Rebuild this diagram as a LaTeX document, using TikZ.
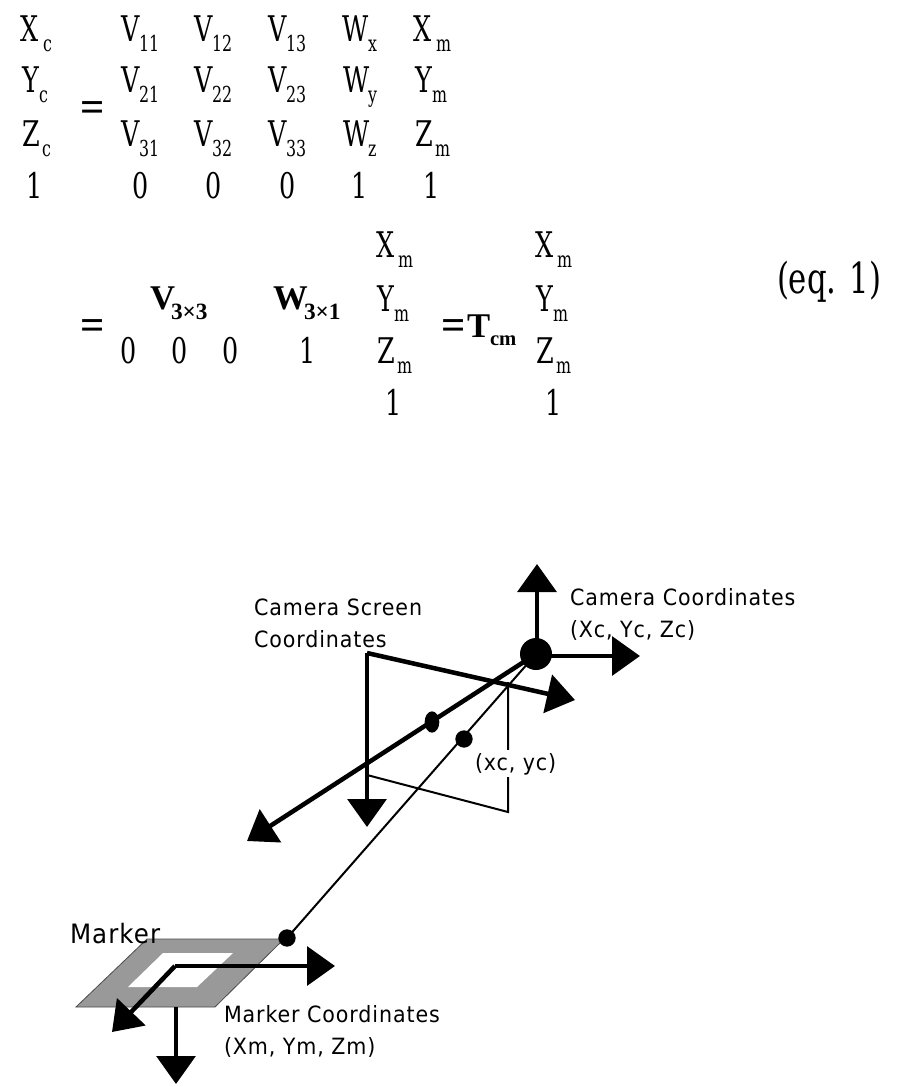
\documentclass[tikz,border=0pt]{standalone}
\usepackage{fontspec}
\usetikzlibrary{arrows.meta,shapes.geometric}
\newfontfamily\eqfont[FakeStretch=0.72]{DejaVu Serif}
\newfontfamily\eqbold{Liberation Serif Bold}
\newfontfamily\lblfont[FakeStretch=0.92,LetterSpace=4]{DejaVu Sans}
\definecolor{markergray}{HTML}{999999}
\tikzset{
  txt/.style={inner sep=0pt,outer sep=0pt,anchor=base west},
  main/.style={txt,font=\eqfont\fontsize{26.5}{26.5}\selectfont},
  ctr/.style={main,anchor=base},
  sbs/.style={txt,font=\eqfont\fontsize{16.5}{16.5}\selectfont},
  bmain/.style={txt,font=\eqbold\fontsize{26}{26}\selectfont},
  bsub/.style={txt,font=\eqbold\fontsize{17.5}{17.5}\selectfont},
  lbl/.style={txt,font=\lblfont\fontsize{16.8}{16.8}\selectfont},
  axis/.style={line width=3.4pt,-{Triangle[length=21pt,width=29pt]}},
  thin line/.style={line width=1.5pt},
  dot/.style={circle,fill=black,inner sep=0pt},
}
\newcommand{\ent}[6]{%name x y main subx sub
  \node[main] (#1) at (#2,#3) {#4};
  \node[sbs] (#1s) at (#5,#3+10) {#6};}
\begin{document}
\begin{tikzpicture}[x=0.75pt,y=-0.75pt]
\useasboundingbox (0,0) rectangle (903,1087);
% first equation
\ent{xc}{21}{42}{X}{43}{c}
\ent{yc}{22}{93}{Y}{39}{c}
\ent{zc}{22}{147}{Z}{42}{c}
\node[ctr] (one0) at (35,199) {1};
\node[main] (eqa) at (80,122) {\eqbold\fontsize{32}{32}\selectfont =};
\ent{v11}{121}{42}{V}{139}{11}
\ent{v12}{194}{42}{V}{212}{12}
\ent{v13}{268}{42}{V}{286}{13}
\ent{wx}{342}{42}{W}{368}{x}
\ent{xm}{413}{42}{X}{436}{m}
\ent{v21}{121}{93}{V}{139}{21}
\ent{v22}{194}{93}{V}{212}{22}
\ent{v23}{268}{93}{V}{286}{23}
\ent{wy}{343}{93}{W}{368}{y}
\ent{ym}{415}{93}{Y}{432}{m}
\ent{v31}{121}{147}{V}{139}{31}
\ent{v32}{194}{147}{V}{212}{32}
\ent{v33}{268}{147}{V}{286}{33}
\ent{wz}{343}{147}{W}{368}{z}
\ent{zm}{415}{147}{Z}{435}{m}
\node[ctr] (r4a) at (141,199) {0};
\node[ctr] (r4b) at (214,199) {0};
\node[ctr] (r4c) at (288,199) {0};
\node[ctr] (r4d) at (360,199) {1};
\node[ctr] (r4e) at (432,199) {1};
% second equation
\node[main] (eqb) at (80,339) {\eqbold\fontsize{32}{32}\selectfont =};
\node[bmain] (vb) at (150,310) {V};
\node[bsub] (vbs) at (171,319) {3×3};
\node[bmain] (wb) at (273,310) {W};
\node[bsub] (wbs) at (304,319) {3×1};
\node[ctr] (z1) at (129,363) {0};
\node[ctr] (z2) at (180,363) {0};
\node[ctr] (z3) at (231,363) {0};
\node[ctr] (o1) at (308,363) {1};
\ent{xma}{376}{258}{X}{398}{m}
\ent{yma}{377}{311}{Y}{394}{m}
\ent{zma}{377}{363}{Z}{397}{m}
\node[ctr] (o2) at (394,415) {1};
\node[main] (eqc) at (441,339) {\eqbold\fontsize{32}{32}\selectfont =};
\node[bmain] (tb) at (467,337) {T};
\node[bsub,font=\eqbold\fontsize{15.5}{15.5}\selectfont] (tbs) at (490,345) {cm};
\ent{xmb}{535}{258}{X}{557}{m}
\ent{ymb}{536}{311}{Y}{553}{m}
\ent{zmb}{536}{363}{Z}{556}{m}
\node[ctr] (o3) at (554,415) {1};
\node[main,font=\eqfont\fontsize{32}{32}\selectfont] (eqn) at (777,293) {(eq. 1)};
% coordinates
\coordinate (cam) at (536,654);
\coordinate (camupb) at (537,654);
\coordinate (camup) at (537,564);
\coordinate (camrightb) at (536,656);
\coordinate (camright) at (640,656);
\coordinate (camlong) at (247,841);
\coordinate (scr) at (367,653);
\coordinate (scrright) at (575,700);
\coordinate (scrdown) at (367,827);
\coordinate (scrbl) at (367,775);
\coordinate (scrbr) at (508,812);
\coordinate (scrtr) at (508,682);
\coordinate (mko) at (175,966);
\coordinate (mkright) at (335,966);
\coordinate (mkdiag) at (112,1032);
\coordinate (mktop) at (176,1007);
\coordinate (mkdown) at (176,1084);
% marker
\draw[fill=markergray,draw=black!70,line width=0.6pt] (147,939) -- (284,939) -- (215,1007) -- (76,1007) -- cycle;
\fill[white] (163,953) -- (233,953) -- (197,987) -- (128,987) -- cycle;
\draw[axis] (mko) -- (mkright);
\draw[axis] (mko) -- (mkdiag);
\draw[axis] (mktop) -- (mkdown);
% camera
\draw[thin line] (scrbl) -- (scrbr) -- (scrtr);
\node[dot,minimum width=24pt] (camdot) at (cam) {};
\node[dot,minimum width=13pt] (mkdot) at (287,938) {};
\draw[thin line] (camdot.center) -- (mkdot.center);
\node[dot,minimum width=13pt] (imgdot) at (464,739) {};
\draw[axis] (camupb) -- (camup);
\draw[axis] (camrightb) -- (camright);
\draw[axis] (cam) -- (camlong);
\draw[axis] (scr) -- (scrright);
\draw[axis] (scr) -- (scrdown);
\node[dot,ellipse,minimum width=11pt,minimum height=16pt] (eld) at (432,722) {};
% labels
\node[lbl] (l1) at (254,615) {Camera Screen};
\node[lbl] (l2) at (254,647) {Coordinates};
\node[lbl] (l3) at (570,605) {Camera Coordinates};
\node[lbl] (l4) at (570,637) {(Xc, Yc, Zc)};
\node[lbl,fill=white,inner ysep=2pt] (l5) at (475,770) {(xc, yc)};
\node[lbl,font=\lblfont\fontsize{20}{20}\selectfont] (l6) at (70,943) {Marker};
\node[lbl] (l7) at (224,1022) {Marker Coordinates};
\node[lbl] (l8) at (224,1054) {(Xm, Ym, Zm)};
\end{tikzpicture}
\end{document}
